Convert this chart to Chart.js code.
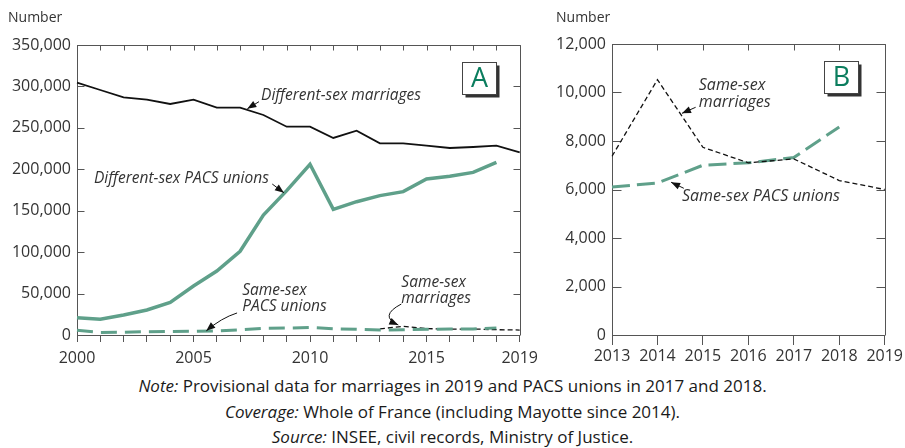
<!DOCTYPE html>
<html>
<head>
<meta charset="utf-8">
<script src="https://cdn.jsdelivr.net/npm/chart.js@4.4.1/dist/chart.umd.min.js"></script>
<style>
  html, body { margin: 0; padding: 0; background: #fff; }
  body { width: 905px; height: 448px; overflow: hidden; position: relative; font-family: "Open Sans", sans-serif; }
  #ca { position: absolute; left: 0; top: 0; }
  #cb { position: absolute; left: 545px; top: 0; }
  #notes { position: absolute; left: 0; top: 373px; width: 905px; text-align: center; font-size: 17px; line-height: 25.5px; color: #1a1a1a; }
  #notes i { font-style: italic; }
</style>
</head>
<body>
<canvas id="ca" width="545" height="372"></canvas>
<canvas id="cb" width="360" height="372"></canvas>
<div id="notes">
  <div><i>Note:</i> Provisional data for marriages in 2019 and PACS unions in 2017 and 2018.</div>
  <div><i>Coverage:</i> Whole of France (including Mayotte since 2014).</div>
  <div><i>Source:</i> INSEE, civil records, Ministry of Justice.</div>
</div>
<script>
// ---------- DATA ----------
const yearsA = [2000, 2001, 2002, 2003, 2004, 2005, 2006, 2007, 2008, 2009,
                2010, 2011, 2012, 2013, 2014, 2015, 2016, 2017, 2018, 2019];
const xLabelsA = [2000, 2005, 2010, 2015, 2019];
const diffSexMarriages = [304500, 295700, 286800, 284000, 278800, 284000, 274400, 274400, 265500, 251400,
                          251400, 237800, 246600, 231300, 231300, 228500, 225700, 226900, 228500, 220500];
const diffSexPacs = [20900, 18900, 24100, 30200, 39400, 59100, 77200, 101000, 144800, 174200,
                     206000, 151700, 160900, 168200, 173000, 188300, 191500, 196300, 208400, null];
const sameSexPacsA = [5800, 3100, 3300, 4000, 4300, 4400, 5000, 6200, 8200, 8400,
                      9100, 7500, 7000, 6100, 6300, 7000, 7100, 7300, 8600, null];
const sameSexMarriagesA = [null, null, null, null, null, null, null, null, null, null,
                           null, null, null, 7370, 10530, 7740, 7100, 7260, 6370, 6000];

const yearsB = [2013, 2014, 2015, 2016, 2017, 2018, 2019];
const sameSexMarriagesB = [7370, 10530, 7740, 7100, 7260, 6370, 6000];
const sameSexPacsB = [6100, 6270, 7000, 7100, 7320, 8580, null];

const yMaxA = 350000, yStepA = 50000;
const yMaxB = 12000, yStepB = 2000;

// ---------- STYLE ----------
const FONT = '"Open Sans", sans-serif';
const GREEN = '#5fa08a';
const AXIS = '#555';
const TXT = '#333';
const fmt = v => Number(v).toLocaleString('en-US');

// frame, inward ticks, box label, "Number", annotations
const decor = {
  id: 'decor',
  beforeDatasetsDraw(chart, args, o) {
    const { ctx, chartArea: a, scales: { x, y } } = chart;
    ctx.save();
    ctx.strokeStyle = AXIS;
    ctx.lineWidth = 1;
    ctx.beginPath();
    const T = Math.round(a.top) + 0.5, R = Math.round(a.right) + 0.5, L = Math.round(a.left) + 0.5;
    ctx.moveTo(L, T); ctx.lineTo(R, T); ctx.lineTo(R, Math.round(a.bottom));
    y.ticks.forEach((t, i) => {
      const py = Math.round(y.getPixelForTick(i)) + 0.5;
      ctx.moveTo(L, py); ctx.lineTo(L + o.yTick, py);
      ctx.moveTo(R, py); ctx.lineTo(R - o.yTick, py);
    });
    x.ticks.forEach((t, i) => {
      const px = Math.round(x.getPixelForTick(i)) + 0.5;
      ctx.moveTo(px, T); ctx.lineTo(px, T + o.topTick);
    });
    ctx.stroke();
    // "Number"
    ctx.fillStyle = TXT;
    ctx.font = '14px ' + FONT;
    ctx.textAlign = 'left';
    ctx.textBaseline = 'middle';
    ctx.fillText('Number', o.numberX, o.numberY);
    ctx.restore();
  },
  afterDatasetsDraw(chart, args, o) {
    const { ctx, chartArea: a, scales: { x, y } } = chart;
    const X = v => x.getPixelForValue(v - o.x0);
    const Y = v => y.getPixelForValue(v);
    ctx.save();
    // annotations
    ctx.fillStyle = TXT;
    ctx.font = 'italic ' + o.textSize + 'px ' + FONT;
    ctx.textAlign = 'left';
    ctx.textBaseline = 'middle';
    o.texts.forEach(t => ctx.fillText(t.text, X(t.x), Y(t.y)));
    ctx.strokeStyle = '#111';
    ctx.fillStyle = '#111';
    ctx.lineWidth = 1;
    o.arrows.forEach(ar => {
      const x1 = X(ar.from[0]), y1 = Y(ar.from[1]);
      const x2 = X(ar.to[0]), y2 = Y(ar.to[1]);
      let cx = x1, cy = y1;
      ctx.beginPath();
      ctx.moveTo(x1, y1);
      if (ar.ctrl) {
        cx = X(ar.ctrl[0]); cy = Y(ar.ctrl[1]);
        ctx.quadraticCurveTo(cx, cy, x2, y2);
      } else {
        ctx.lineTo(x2, y2);
      }
      ctx.stroke();
      const ang = Math.atan2(y2 - cy, x2 - cx);
      const len = 9, hw = 3.5;
      ctx.beginPath();
      ctx.moveTo(x2, y2);
      ctx.lineTo(x2 - len * Math.cos(ang) + hw * Math.sin(ang), y2 - len * Math.sin(ang) - hw * Math.cos(ang));
      ctx.lineTo(x2 - len * Math.cos(ang) - hw * Math.sin(ang), y2 - len * Math.sin(ang) + hw * Math.cos(ang));
      ctx.closePath();
      ctx.fill();
    });
    // boxed letter
    const bw = o.box.w, bh = o.box.h;
    const bx = Math.round(a.right - o.box.right - bw) + 0.5;
    const by = Math.round(a.top + o.box.top) + 0.5;
    ctx.fillStyle = '#333';
    ctx.fillRect(bx + 3, by + 3, bw, bh);
    ctx.fillStyle = '#fff';
    ctx.fillRect(bx, by, bw, bh);
    ctx.strokeStyle = '#444';
    ctx.lineWidth = 1;
    ctx.strokeRect(bx, by, bw, bh);
    ctx.fillStyle = '#0b7d5e';
    ctx.font = '27px ' + FONT;
    ctx.textAlign = 'center';
    ctx.textBaseline = 'middle';
    ctx.fillText(o.box.letter, bx + bw / 2, by + bh / 2 + 1);
    ctx.restore();
  }
};

function baseOptions(cfg) {
  return {
    responsive: false,
    animation: false,
    devicePixelRatio: 1,
    layout: { padding: { top: cfg.top, right: cfg.right, left: 0, bottom: 0 } },
    elements: { point: { radius: 0 }, line: { tension: 0, borderCapStyle: 'butt' } },
    plugins: { legend: { display: false }, tooltip: { enabled: false }, decor: cfg.decor },
    scales: {
      x: {
        type: 'category',
        offset: false,
        border: { color: AXIS, width: 1 },
        grid: { display: true, drawOnChartArea: false, drawTicks: true, tickLength: cfg.xTick, color: AXIS },
        ticks: {
          autoSkip: false, maxRotation: 0, minRotation: 0,
          padding: cfg.xPad, color: TXT, font: { family: FONT, size: 16 },
          callback: cfg.xCallback
        },
        afterFit: s => { s.height = cfg.xHeight; }
      },
      y: {
        min: 0, max: cfg.yMax,
        border: { color: AXIS, width: 1 },
        grid: { display: true, drawOnChartArea: false, drawTicks: false },
        ticks: { stepSize: cfg.yStep, padding: 6, color: TXT, font: { family: FONT, size: 16 }, callback: v => fmt(v) },
        afterFit: s => { s.width = cfg.yWidth; }
      }
    }
  };
}

// ---------- PANEL A ----------
new Chart(document.getElementById('ca'), {
  type: 'line',
  data: {
    labels: yearsA,
    datasets: [
      { data: sameSexPacsA, borderColor: GREEN, borderWidth: 3, borderDash: [16, 8] },
      { data: sameSexMarriagesA, borderColor: '#111', borderWidth: 1.3, borderDash: [5, 3] },
      { data: diffSexPacs, borderColor: GREEN, borderWidth: 3.5 },
      { data: diffSexMarriages, borderColor: '#111', borderWidth: 1.8 }
    ]
  },
  options: baseOptions({
    top: 45, right: 24, yWidth: 77, xHeight: 37, xTick: 7, xPad: 7,
    yMax: yMaxA, yStep: yStepA,
    xCallback: (v, i) => xLabelsA.includes(yearsA[i]) ? String(yearsA[i]) : '',
    decor: {
      x0: yearsA[0], yTick: 7, topTick: 5, numberX: 8, numberY: 18, textSize: 15.5,
      box: { letter: 'A', w: 34, h: 32, right: 24, top: 17 },
      texts: [
        { text: 'Different-sex marriages', x: 2007.9, y: 288400 },
        { text: 'Different-sex PACS unions', x: 2000.73, y: 188300 },
        { text: 'Same-sex', x: 2007.09, y: 53100 },
        { text: 'PACS unions', x: 2007.09, y: 33800 },
        { text: 'Same-sex', x: 2013.92, y: 62800 },
        { text: 'marriages', x: 2013.92, y: 43400 }
      ],
      arrows: [
        { from: [2007.81, 281600], to: [2007.31, 273000] },
        { from: [2008.38, 182200], to: [2008.88, 171700] },
        { from: [2006.87, 26600], ctrl: [2006.19, 20500], to: [2005.55, 5000] },
        { from: [2013.92, 37400], ctrl: [2012.94, 22900], to: [2013.79, 12100] }
      ]
    }
  }),
  plugins: [decor]
});

// ---------- PANEL B ----------
new Chart(document.getElementById('cb'), {
  type: 'line',
  data: {
    labels: yearsB,
    datasets: [
      { data: sameSexMarriagesB, borderColor: '#111', borderWidth: 1.3, borderDash: [5, 3] },
      { data: sameSexPacsB, borderColor: GREEN, borderWidth: 3, borderDash: [18, 7] }
    ]
  },
  options: baseOptions({
    top: 44, right: 17, yWidth: 67, xHeight: 37, xTick: 10, xPad: 2,
    yMax: yMaxB, yStep: yStepB,
    xCallback: (v, i) => String(yearsB[i]),
    decor: {
      x0: yearsB[0], yTick: 9, topTick: 6, numberX: 11, numberY: 18, textSize: 16,
      box: { letter: 'B', w: 34, h: 32, right: 27, top: 17 },
      texts: [
        { text: 'Same-sex', x: 2014.91, y: 10300 },
        { text: 'marriages', x: 2014.91, y: 9600 },
        { text: 'Same-sex PACS unions', x: 2014.54, y: 5720 }
      ],
      arrows: [
        { from: [2014.84, 9390], to: [2014.54, 9140] },
        { from: [2014.58, 6050], to: [2014.30, 6300] }
      ]
    }
  }),
  plugins: [decor]
});
</script>
</body>
</html>
